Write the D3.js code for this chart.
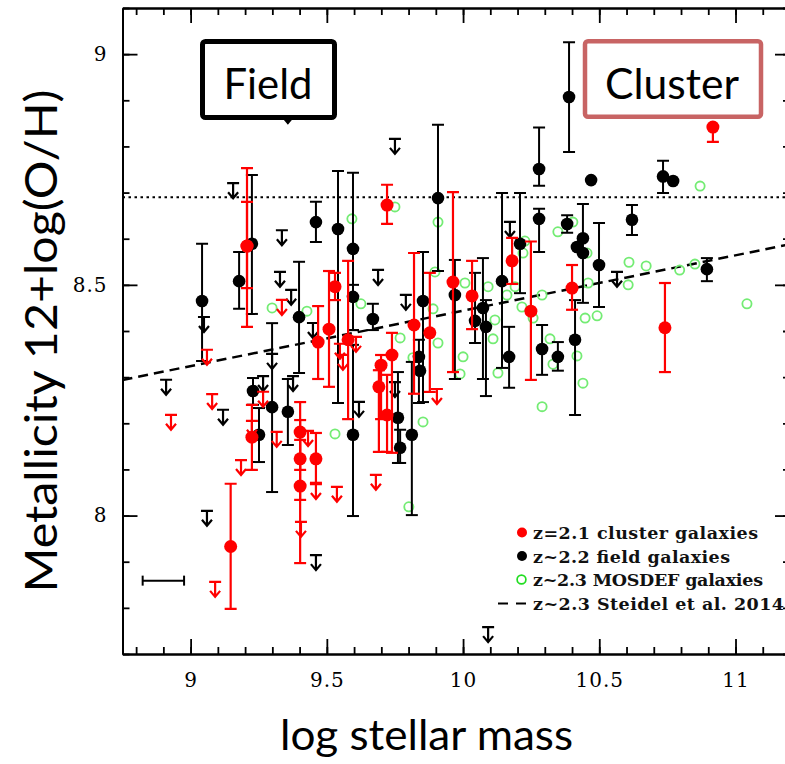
<!DOCTYPE html>
<html><head><meta charset="utf-8">
<script src="https://cdn.jsdelivr.net/npm/d3@7"></script>
<style>body{margin:0;background:#fff}svg{display:block}</style>
</head><body><svg id="c" width="785" height="764"></svg>
<script>
// ---------------- DATA ----------------
const xTickValues = [9, 9.5, 10, 10.5, 11];
const yTickValues = [8, 8.5, 9];
const xMinorTicks = d3.range(88, 113).map(d => d / 10);
const yMinorTicks = d3.range(77, 92).map(d => d / 10);
// [log M*, 12+log(O/H), lower, upper]
const fieldGalaxies = [
[9.042,8.465,8.335,8.589],[9.178,8.508,8.448,8.571],[9.225,8.589,8.437,8.738],
[9.229,8.270,8.240,8.298],[9.251,8.175,8.116,8.233],[9.299,8.235,8.051,8.417],
[9.357,8.225,8.153,8.296],[9.398,8.430,8.309,8.550],[9.460,8.636,8.593,8.680],
[9.541,8.621,8.244,8.747],[9.596,8.578,8.402,8.743],[9.596,8.474,8.402,8.500],
[9.596,8.175,7.999,8.370],[9.669,8.426,8.402,8.459],[9.761,8.212,8.114,8.311],
[9.769,8.147,8.114,8.186],[9.812,8.175,8.001,8.333],[9.853,8.465,8.246,8.571],
[9.838,8.344,8.244,8.381],[9.842,8.314,null,null],[9.908,8.688,8.530,8.847],
[9.970,8.478,8.296,8.554],[10.044,8.422,8.374,8.526],[10.073,8.450,8.296,8.558],
[10.084,8.409,8.259,8.467],[10.143,8.508,8.320,8.699],[10.169,8.344,8.277,8.409],
[10.209,8.589,8.482,8.699],[10.279,8.751,8.715,8.841],[10.279,8.643,8.571,8.665],
[10.290,8.361,8.305,8.413],[10.348,8.344,8.314,8.376],[10.389,8.907,8.788,9.026],
[10.382,8.632,8.613,8.651],[10.440,8.601,8.461,8.675],[10.418,8.582,null,null],
[10.440,8.569,null,null],[10.411,8.381,8.218,8.467],[10.470,8.727,null,null],
[10.499,8.543,8.452,8.634],[10.620,8.641,8.608,8.673],[10.734,8.735,8.699,8.769],
[10.771,8.725,null,null],[10.895,8.534,8.508,8.558]
];
const clusterGalaxies = [
[9.207,8.584,8.409,8.753],[9.207,8.584,8.493,8.680],[9.225,8.170,8.099,8.240],
[9.147,7.933,7.798,8.069],[9.402,8.181,8.099,8.246],[9.402,8.123,8.034,8.207],
[9.402,8.064,7.897,8.164],[9.460,8.123,8.071,8.179],[9.468,8.376,8.296,8.454],
[9.508,8.404,8.279,8.530],[9.530,8.496,8.467,8.526],[9.578,8.381,8.209,8.552],
[9.699,8.326,8.209,8.348],[9.691,8.279,8.138,8.315],[9.739,8.348,8.136,8.396],
[9.721,8.218,8.138,8.305],[9.721,8.673,8.632,8.717],[9.820,8.413,8.264,8.569],
[9.878,8.396,8.268,8.526],[9.963,8.506,8.311,8.701],[10.033,8.476,8.404,8.552],
[10.180,8.552,8.502,8.602],[10.249,8.443,8.294,8.594],[10.400,8.493,8.446,8.543],
[10.741,8.407,8.311,8.504],[10.917,8.842,8.810,8.842]
];
// upper limits [log M*, limit]
const fieldLimits = [
[9.357,8.866],[9.750,8.799],[9.156,8.703],[9.335,8.601],[9.328,8.511],[9.369,8.472],
[9.049,8.413],[8.910,8.277],[9.119,8.212],[9.266,8.285],[9.299,8.333],[9.376,8.285],
[9.449,8.400],[9.688,8.515],[9.618,8.229],[9.060,7.993],[9.460,7.897],[10.092,7.741],
[9.790,8.461],[9.750,8.272],[10.565,8.511],[10.172,8.619]
];
const clusterLimits = [
[9.060,8.342],[8.928,8.201],[9.079,8.246],[9.335,8.450],[9.266,8.251],[9.316,8.164],
[9.225,8.188],[9.185,8.103],[9.431,8.166],[9.460,8.051],[9.537,8.045],[9.548,8.355],
[9.559,8.331],[9.607,8.370],[9.090,7.839],[9.680,8.071],[9.405,7.969],[9.904,8.257]
];
const mosdefGalaxies = [
[9.592,8.643],[9.750,8.669],[9.908,8.636],[9.299,8.450],[9.427,8.443],[9.625,8.459],
[9.530,8.177],[9.769,8.385],[9.897,8.528],[9.890,8.448],[9.816,8.342],[10.000,8.344],
[9.989,8.307],[9.853,8.203],[9.908,8.374],[10.007,8.504],[10.092,8.496],[10.117,8.424],
[10.110,8.383],[10.161,8.478],[10.191,8.496],[10.216,8.452],[10.257,8.428],[10.290,8.478],
[10.319,8.383],[10.330,8.328],[10.418,8.346],[10.440,8.287],[10.290,8.236],[10.128,8.309],
[10.459,8.504],[10.448,8.428],[10.492,8.433],[10.609,8.549],[10.672,8.541],[10.606,8.500],
[10.795,8.532],[10.851,8.545],[11.042,8.459],[10.870,8.714],[10.348,8.615],[10.403,8.636],
[10.227,8.595],[10.220,8.569],[10.455,8.569],[9.801,8.019]
];
const steidelLine = [[8.75, 8.294], [11.2, 8.588]];
const solarValue = 8.69;
const massErrorSample = [8.824, 8.976, 7.859];
const legendLabels = ["z=2.1 cluster galaxies","z~2.2 field galaxies","z~2.3 MOSDEF galaxies","z~2.3 Steidel et al. 2014"];

// ---------------- CHART ----------------
const svg = d3.select("#c");
const x = d3.scaleLinear().domain([8.75, 11.2]).range([122.5, 790]);
const y = d3.scaleLinear().domain([7.7, 9.1]).range([654, 8]);
const RED = "#ff0000", GREEN = "#74ec74";

svg.append("defs").append("clipPath").attr("id","clip")
  .append("rect").attr("x",122.5).attr("y",8).attr("width",667.5).attr("height",646);
const plot = svg.append("g").attr("clip-path","url(#clip)");

// reference lines
plot.append("line").attr("x1",x(8.75)).attr("x2",x(11.2)).attr("y1",y(solarValue)).attr("y2",y(solarValue))
  .attr("stroke","#000").attr("stroke-width",2).attr("stroke-dasharray","2.5,3.5");
plot.append("path").attr("d", d3.line().x(d=>x(d[0])).y(d=>y(d[1]))(steidelLine))
  .attr("stroke","#000").attr("stroke-width",2.5).attr("fill","none").attr("stroke-dasharray","10,6");

// MOSDEF
plot.append("g").selectAll("circle").data(mosdefGalaxies).join("circle")
  .attr("cx",d=>x(d[0])).attr("cy",d=>y(d[1])).attr("r",4.6)
  .attr("fill","none").attr("stroke",GREEN).attr("stroke-width",1.8);

function errBars(g, data, color, sw){
  const gg = g.append("g").attr("stroke",color).attr("stroke-width",sw).attr("fill","none");
  data.filter(d=>d[2]!==null).forEach(d=>{
    const cx = x(d[0]);
    gg.append("line").attr("x1",cx).attr("x2",cx).attr("y1",y(d[2])).attr("y2",y(d[3]));
    gg.append("line").attr("x1",cx-6).attr("x2",cx+6).attr("y1",y(d[2])).attr("y2",y(d[2]));
    if (d[3] !== d[1]) gg.append("line").attr("x1",cx-6).attr("x2",cx+6).attr("y1",y(d[3])).attr("y2",y(d[3]));
  });
}
const arrowPath = "M-6,-8H6M0,-8V7M-5,1L0,7L5,1";
function limits(g, data, color){
  g.append("g").selectAll("path").data(data).join("path")
    .attr("transform",d=>`translate(${x(d[0])},${y(d[1])})`)
    .attr("d",arrowPath).attr("fill","none").attr("stroke",color).attr("stroke-width",2.2);
}

// field
errBars(plot, fieldGalaxies, "#000", 2);
limits(plot, fieldLimits, "#000");
plot.append("g").selectAll("circle").data(fieldGalaxies).join("circle")
  .attr("cx",d=>x(d[0])).attr("cy",d=>y(d[1])).attr("r",6.3).attr("fill","#000");
// cluster
errBars(plot, clusterGalaxies, RED, 2.2);
limits(plot, clusterLimits, RED);
plot.append("g").selectAll("circle").data(clusterGalaxies).join("circle")
  .attr("cx",d=>x(d[0])).attr("cy",d=>y(d[1])).attr("r",6.5).attr("fill",RED);

// typical mass error
const me = svg.append("g").attr("stroke","#000").attr("stroke-width",2);
me.append("line").attr("x1",x(massErrorSample[0])).attr("x2",x(massErrorSample[1])).attr("y1",y(massErrorSample[2])).attr("y2",y(massErrorSample[2]));
[0,1].forEach(i=>me.append("line").attr("x1",x(massErrorSample[i])).attr("x2",x(massErrorSample[i]))
  .attr("y1",y(massErrorSample[2])-5).attr("y2",y(massErrorSample[2])+5));

// axes
function styleAxis(g){
  g.select(".domain").attr("stroke","#000").attr("stroke-width",2);
  g.selectAll(".tick line").attr("stroke","#000").attr("stroke-width",1.8);
}
const fmt = d => String(d);
svg.append("g").attr("transform","translate(0,654)")
  .call(d3.axisBottom(x).tickValues(xMinorTicks).tickSize(-7).tickSizeOuter(0).tickFormat("")).call(styleAxis);
const xb = svg.append("g").attr("transform","translate(0,654)")
  .call(d3.axisBottom(x).tickValues(xTickValues).tickSize(-15).tickSizeOuter(0).tickPadding(19).tickFormat(fmt)).call(styleAxis);
xb.selectAll("text").attr("font-family","DejaVu Serif").attr("font-size",20).attr("fill","#000").attr("letter-spacing",1);
svg.append("g").attr("transform","translate(0,8)")
  .call(d3.axisTop(x).tickValues(xMinorTicks).tickSize(-7).tickSizeOuter(0).tickFormat("")).call(styleAxis);
svg.append("g").attr("transform","translate(0,8)")
  .call(d3.axisTop(x).tickValues(xTickValues).tickSize(-15).tickSizeOuter(0).tickFormat("")).call(styleAxis);
svg.append("g").attr("transform","translate(122.5,0)")
  .call(d3.axisLeft(y).tickValues(yMinorTicks).tickSize(-7).tickSizeOuter(0).tickFormat("")).call(styleAxis);
const yl = svg.append("g").attr("transform","translate(122.5,0)")
  .call(d3.axisLeft(y).tickValues(yTickValues).tickSize(-15).tickSizeOuter(0).tickPadding(15).tickFormat(fmt)).call(styleAxis);
yl.selectAll("text").attr("font-family","DejaVu Serif").attr("font-size",20).attr("fill","#000").attr("letter-spacing",1);
svg.append("g").attr("transform","translate(790,0)")
  .call(d3.axisRight(y).tickValues(yMinorTicks).tickSize(-7).tickSizeOuter(0).tickFormat("")).call(styleAxis);
svg.append("g").attr("transform","translate(790,0)")
  .call(d3.axisRight(y).tickValues(yTickValues).tickSize(-15).tickSizeOuter(0).tickFormat("")).call(styleAxis);

// axis titles
svg.append("text").attr("x",426.5).attr("y",750).attr("text-anchor","middle")
  .attr("font-family","Lato").attr("font-size",42).attr("textLength",293).attr("lengthAdjust","spacingAndGlyphs")
  .text("log stellar mass");
svg.append("text").attr("transform","translate(57,341) rotate(-90)").attr("text-anchor","middle")
  .attr("font-family","Lato").attr("font-size",44).attr("textLength",503).attr("lengthAdjust","spacingAndGlyphs")
  .text("Metallicity 12+log(O/H)");

// Field / Cluster boxes
svg.append("rect").attr("x",202.5).attr("y",41.5).attr("width",132).attr("height",76).attr("rx",3)
  .attr("fill","#fff").attr("stroke","#000").attr("stroke-width",5);
svg.append("text").attr("x",268).attr("y",99).attr("text-anchor","middle").attr("font-family","Lato")
  .attr("font-size",43).attr("textLength",89).attr("lengthAdjust","spacingAndGlyphs").text("Field");
svg.append("rect").attr("x",585).attr("y",41.3).attr("width",176).attr("height",75.5).attr("rx",3)
  .attr("fill","#fff").attr("stroke","#c86464").attr("stroke-width",4.5);
svg.append("text").attr("x",672).attr("y",99).attr("text-anchor","middle").attr("font-family","Lato")
  .attr("font-size",43).attr("textLength",134).attr("lengthAdjust","spacingAndGlyphs").text("Cluster");

// legend
const lg = svg.append("g");
const rows = [539, 562.5, 586, 609.5];
const widths = [225, 197, 230, 251];
lg.append("circle").attr("cx",522).attr("cy",rows[0]-6.5).attr("r",5).attr("fill",RED);
lg.append("circle").attr("cx",522).attr("cy",rows[1]-6.5).attr("r",5).attr("fill","#000");
lg.append("circle").attr("cx",521.5).attr("cy",rows[2]-6.5).attr("r",4.4).attr("fill","none").attr("stroke","#22dd22").attr("stroke-width",1.7);
lg.append("line").attr("x1",498).attr("x2",527).attr("y1",rows[3]-6).attr("y2",rows[3]-6)
  .attr("stroke","#000").attr("stroke-width",2).attr("stroke-dasharray","10,8");
legendLabels.forEach((t,i)=>{
  lg.append("text").attr("x",533).attr("y",rows[i]).attr("font-family","DejaVu Serif").attr("font-weight","bold")
    .attr("font-size",17.5).attr("textLength",widths[i]).attr("lengthAdjust","spacing").attr("fill","#111").text(t);
});
</script></body></html>
